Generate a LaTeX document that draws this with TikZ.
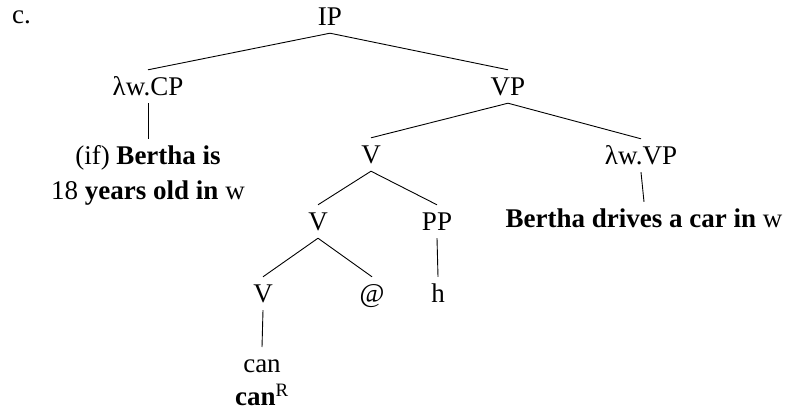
\documentclass[tikz,border=0pt]{standalone}
\usepackage{fontspec}
\setmainfont{Liberation Serif}
\usepackage{tikz}

\tikzset{
    cat/.style={inner sep=0pt, text height=25pt, text depth=8pt, anchor=base},
    leaf/.style={inner sep=0pt, align=center, anchor=north},
    branch/.style={draw, line width=0.9pt}
}
\newcommand{\toprow}{\rule{0pt}{25pt}}

\begin{document}
\begin{tikzpicture}[x=1pt, y=-1pt, font=\fontsize{27}{35}\selectfont]
\useasboundingbox (0,0) rectangle (787,410);

% Labels
\node (lbl) [cat, anchor=base west] at (12,23) {c.};
\node (ip) [cat] at (330,25) {IP};
\node (cp) [cat] at (148,95) {λw.CP};
\node (vp) [cat] at (508,95) {VP};
\node (cpleaf) [leaf] at (148,139) {\toprow(if) \textbf{Bertha is}\\18 \textbf{years old in} w};
\node (vbar) [cat] at (371,163) {V};
\node (lvp) [cat] at (641,164) {λw.VP};
\node (vpleaf) [cat] at (644,227) {\textbf{Bertha drives a car in} w};
\node (vmid) [cat] at (318,230) {V};
\node (pp) [cat] at (437,230) {PP};
\node (vlow) [cat] at (263,302) {V};
\node (at) [cat] at (372,302) {@};
\node (h) [cat] at (438,302) {h};
\node (can) [leaf] at (262,347) {\toprow can\\[-2pt]\textbf{can}\textsuperscript{R}};

% Branches
\draw [branch] (ip.south) -- (cp.north);
\draw [branch] (ip.south) -- (vp.north);
\draw [branch] (cp.south) -- (cpleaf.north);
\draw [branch] (vp.south) -- (vbar.north);
\draw [branch] (vp.south) -- (lvp.north);
\draw [branch] (lvp.south) -- (vpleaf.north);
\draw [branch] (vbar.south) -- (vmid.north);
\draw [branch] (vbar.south) -- (pp.north);
\draw [branch] (vmid.south) -- (vlow.north);
\draw [branch] (vmid.south) -- (at.north);
\draw [branch] (pp.south) -- (h.north);
\draw [branch] (vlow.south) -- (can.north);

\end{tikzpicture}
\end{document}
